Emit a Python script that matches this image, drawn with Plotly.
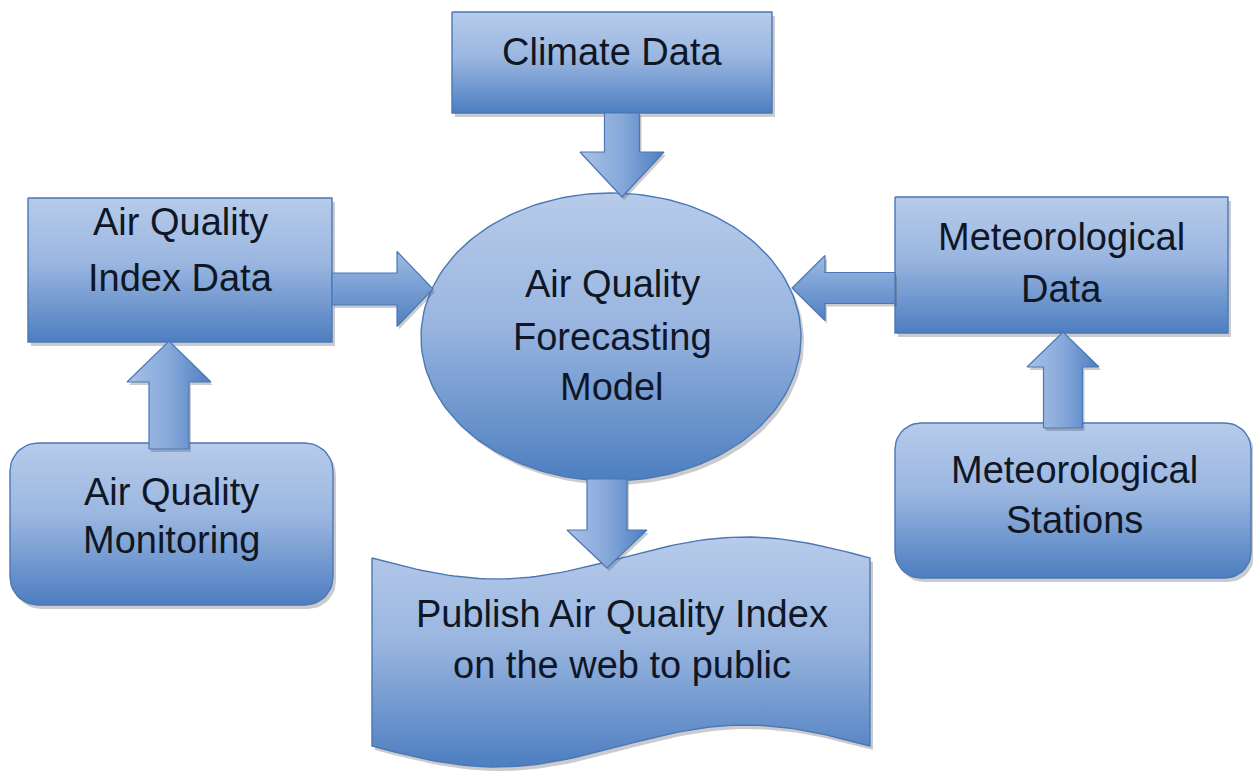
import numpy as np
import plotly.graph_objects as go

# ---------------- content ----------------
node_names = ["Climate Data", "Air Quality Index Data", "Air Quality Forecasting Model",
              "Meteorological Data", "Air Quality Monitoring", "Meteorological Stations",
              "Publish Air Quality Index on the web to public"]
node_lines = [
    ["Climate Data"],
    ["Air Quality", "Index Data"],
    ["Air Quality", "Forecasting", "Model"],
    ["Meteorological", "Data"],
    ["Air Quality", "Monitoring"],
    ["Meteorological", "Stations"],
    ["Publish Air Quality Index", "on the web to public"],
]
edges = [("Climate Data", "Air Quality Forecasting Model"),
         ("Air Quality Index Data", "Air Quality Forecasting Model"),
         ("Meteorological Data", "Air Quality Forecasting Model"),
         ("Air Quality Monitoring", "Air Quality Index Data"),
         ("Meteorological Stations", "Meteorological Data"),
         ("Air Quality Forecasting Model", "Publish Air Quality Index on the web to public")]

# ---------------- geometry (pixel layout) ----------------
W, H = 1253, 772
# kind, params
geom = {
    "Climate Data": ("rect", (452, 12, 772, 113)),
    "Air Quality Index Data": ("rect", (28, 198, 332, 342)),
    "Air Quality Forecasting Model": ("ellipse", (611, 337, 190, 144)),
    "Meteorological Data": ("rect", (895, 197, 1228, 333)),
    "Air Quality Monitoring": ("rrect", (10, 443, 333, 605, 28)),
    "Meteorological Stations": ("rrect", (895, 423, 1251, 578, 26)),
    "Publish Air Quality Index on the web to public": ("wave", (372, 870, 558, 746, 21)),
}
# text baselines for each line
text_pos = {
    "Climate Data": (612, [65]),
    "Air Quality Index Data": (180, [235, 291]),
    "Air Quality Forecasting Model": (612, [297, 350, 400]),
    "Meteorological Data": (1061, [250, 302]),
    "Air Quality Monitoring": (171, [505, 553]),
    "Meteorological Stations": (1074, [483, 533]),
    "Publish Air Quality Index on the web to public": (622, [627, 678]),
}
# arrows: orientation, axis coord, start, tip, shaft half width, head half width, head length
arrow_geom = [
    ("v", 622, 113, 197, 17.5, 42, 45),
    ("h", 289, 332, 433, 16, 37.5, 36),
    ("h", 288, 895, 792, 15.5, 32.5, 33),
    ("v", 169, 449, 341, 20, 42, 41),
    ("v", 1063, 428, 332, 19.5, 36, 35),
    ("v", 607, 479, 568, 20, 40, 38),
]

FONT = "Liberation Sans, Arial, sans-serif"
FSIZE = 38
BOX_SCALE = [[0, "#b7cbea"], [0.45, "#9ab6e0"], [1, "#4d7ec0"]]
ARROW_SCALE_H = [[0, "#9fbbe3"], [1, "#4f80c1"]]
EDGE = "#4a78b6"


def rect(x0, y0, x1, y1):
    return [x0, x1, x1, x0, x0], [y0, y0, y1, y1, y0]


def rrect(x0, y0, x1, y1, r):
    xs, ys = [], []
    corners = [(x1 - r, y0 + r, -90, 0), (x1 - r, y1 - r, 0, 90),
               (x0 + r, y1 - r, 90, 180), (x0 + r, y0 + r, 180, 270)]
    for cx, cy, a0, a1 in corners:
        t = np.radians(np.linspace(a0, a1, 12))
        xs += list(cx + r * np.cos(t))
        ys += list(cy + r * np.sin(t))
    xs.append(xs[0]); ys.append(ys[0])
    return xs, ys


def ellipse(cx, cy, rx, ry):
    t = np.linspace(0, 2 * np.pi, 181)
    return list(cx + rx * np.cos(t)), list(cy + ry * np.sin(t))


def wave(x0, x1, yt, yb, amp):
    xx = np.linspace(x0, x1, 80)
    ph = 2 * np.pi * (xx - x0) / (x1 - x0)
    top = yt + amp * np.sin(ph)
    bot = yb + amp * np.sin(ph)
    xs = list(xx) + list(xx[::-1]) + [xx[0]]
    ys = list(top) + list(bot[::-1]) + [top[0]]
    return xs, ys


def shape_pts(kind, p):
    if kind == "rect":
        return rect(*p)
    if kind == "rrect":
        return rrect(*p)
    if kind == "ellipse":
        return ellipse(*p)
    return wave(*p)


def arrow_pts(o, c, s, t, sw, hw, hl):
    d = 1 if t > s else -1
    base = t - d * hl
    a = [(c - sw, s), (c + sw, s), (c + sw, base), (c + hw, base), (c, t),
         (c - hw, base), (c - sw, base), (c - sw, s)]
    if o == "v":
        return [p[0] for p in a], [p[1] for p in a]
    return [p[1] for p in a], [p[0] for p in a]


fig = go.Figure()


def add_poly(xs, ys, grad, line_w=1.4, shadow=True, sdx=3, sdy=4):
    if shadow:
        fig.add_trace(go.Scatter(x=[x + sdx for x in xs], y=[y + sdy for y in ys], mode="lines",
                                 fill="toself", fillcolor="rgba(70,70,80,0.28)",
                                 line=dict(width=0), hoverinfo="skip"))
    fig.add_trace(go.Scatter(x=xs, y=ys, mode="lines", fill="toself", fillgradient=grad,
                             line=dict(color=EDGE, width=line_w), hoverinfo="skip"))


# nodes
for name in node_names:
    kind, p = geom[name]
    xs, ys = shape_pts(kind, p)
    y0, y1 = min(ys), max(ys)
    add_poly(xs, ys, dict(type="vertical", colorscale=BOX_SCALE, start=y0, stop=y1))

# arrows
for (o, c, s, t, sw, hw, hl) in arrow_geom:
    xs, ys = arrow_pts(o, c, s, t, sw, hw, hl)
    if o == "v":
        grad = dict(type="horizontal", colorscale=[[0, "#a9c2e6"], [0.5, "#86a8da"], [1, "#4d7ec0"]],
                    start=c - hw, stop=c + hw)
    else:
        grad = dict(type="vertical", colorscale=ARROW_SCALE_H, start=c - hw, stop=c + hw)
    add_poly(xs, ys, grad, line_w=1.2, sdx=2, sdy=3)

# text
for name, lines in zip(node_names, node_lines):
    cx, bls = text_pos[name]
    for ln, bl in zip(lines, bls):
        fig.add_annotation(x=cx, y=bl - 13, text=ln, showarrow=False, xanchor="center", yanchor="middle",
                           font=dict(family=FONT, size=FSIZE, color="#0f1726"))

fig.update_layout(width=W, height=H, margin=dict(l=0, r=0, t=0, b=0), showlegend=False,
                  plot_bgcolor="white", paper_bgcolor="white")
fig.update_xaxes(range=[0, W], visible=False, fixedrange=True)
fig.update_yaxes(range=[H, 0], visible=False, fixedrange=True)

fig.write_html("out.html", config={"displayModeBar": False},
               post_script="document.body.style.margin='0';document.body.style.overflow='hidden';")
